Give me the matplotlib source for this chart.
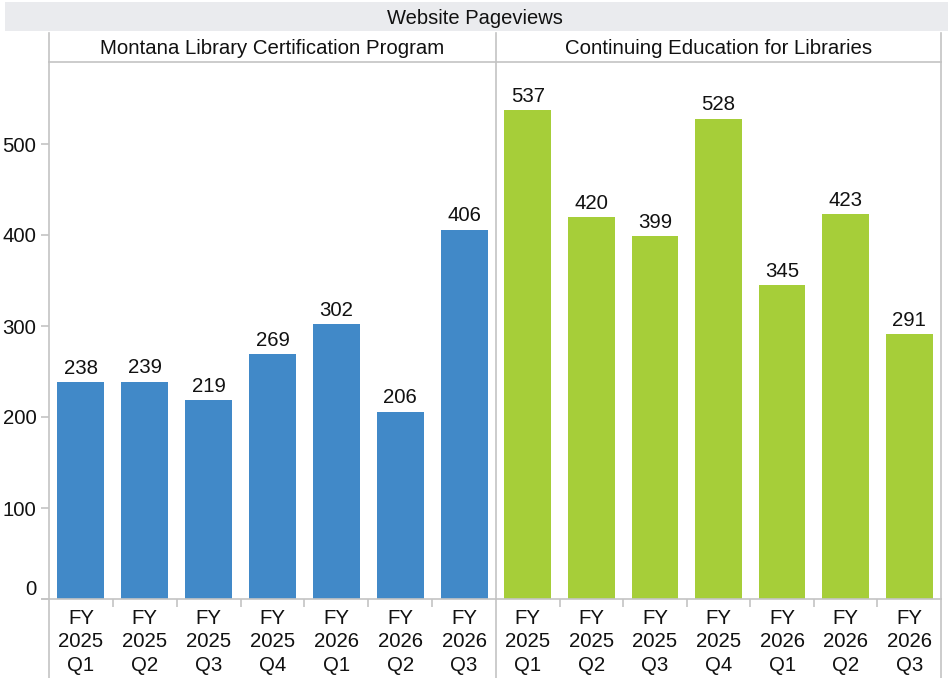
import matplotlib
matplotlib.use("Agg")
import matplotlib.pyplot as plt
from matplotlib.lines import Line2D
from matplotlib.patches import Rectangle

plt.rcParams['font.family'] = ['Liberation Sans', 'DejaVu Sans']

title = "Website Pageviews"
panels = ["Montana Library Certification Program", "Continuing Education for Libraries"]
categories = ["FY\n2025\nQ1", "FY\n2025\nQ2", "FY\n2025\nQ3", "FY\n2025\nQ4",
              "FY\n2026\nQ1", "FY\n2026\nQ2", "FY\n2026\nQ3"]
mlcp_values = [238, 239, 219, 269, 302, 206, 406]
cel_values = [537, 420, 399, 528, 345, 423, 291]
yticks = [0, 100, 200, 300, 400, 500]
colors = ["#4189C8", "#A6CE39"]

W, H = 948, 678
fig = plt.figure(figsize=(W / 100, H / 100), dpi=100)

def fx(x):
    return x / W

def fy(y):
    return 1 - y / H

GRID = "#C4C4C4"
FS = 14.7

# Title band
fig.add_artist(Rectangle((fx(5), fy(31)), fx(948) - fx(5), fy(2) - fy(31),
                         transform=fig.transFigure, color="#EAEBEE", lw=0, zorder=0))
fig.text(fx(475), fy(18), title, ha="center", va="center", fontsize=14.5, color="#111111")

top, base = 62, 599
panel_x = [(49, 496), (496, 941)]
ymax = (base - top) / 0.91

axes = []
for i, ((x0, x1), vals) in enumerate(zip(panel_x, [mlcp_values, cel_values])):
    ax = fig.add_axes([fx(x0), fy(base), fx(x1) - fx(x0), fy(top) - fy(base)])
    xs = list(range(len(categories)))
    bars = ax.bar(xs, vals, width=0.735, color=colors[i], zorder=2)
    for b, v in zip(bars, vals):
        ax.annotate(str(v), (b.get_x() + b.get_width() / 2, v), xytext=(0, 3),
                    textcoords="offset points", ha="center", va="bottom",
                    fontsize=FS, color="#111111")
    ax.set_xlim(-0.5, len(categories) - 0.5)
    ax.set_ylim(0, ymax)
    for s in ["left", "right", "top", "bottom"]:
        ax.spines[s].set_color(GRID)
        ax.spines[s].set_linewidth(1.2)
    ax.spines["right"].set_visible(i == 1)
    ax.set_xticks(xs)
    ax.set_xticklabels(categories, fontsize=FS, linespacing=1.3, color="#111111")
    ax.tick_params(axis="x", which="major", length=0, pad=7)
    ax.set_xticks([k + 0.5 for k in xs[:-1]], minor=True)
    ax.tick_params(axis="x", which="minor", length=6, color=GRID, width=1.2)
    if i == 0:
        ax.set_yticks(yticks)
        ax.set_yticklabels([str(t) for t in yticks], fontsize=FS, color="#111111")
        ax.tick_params(axis="y", length=6, color=GRID, width=1.2, pad=3)
        for lab in ax.get_yticklabels():
            if lab.get_text() == "0":
                lab.set_va("bottom")
    else:
        ax.set_yticks([])
    axes.append(ax)
    fig.text(fx((x0 + x1) / 2), fy(48), panels[i], ha="center", va="center",
             fontsize=FS, color="#111111")

# extend panel border lines into header and label areas
for x in [49, 496, 941]:
    fig.add_artist(Line2D([fx(x), fx(x)], [fy(33), fy(top)], transform=fig.transFigure,
                          color=GRID, lw=1.2))
    fig.add_artist(Line2D([fx(x), fx(x)], [fy(base), fy(678)], transform=fig.transFigure,
                          color=GRID, lw=1.2))
# baseline tick to the left
fig.add_artist(Line2D([fx(42), fx(49)], [fy(base), fy(base)], transform=fig.transFigure,
                      color=GRID, lw=1.2))

fig.savefig("out.png", dpi=100)
